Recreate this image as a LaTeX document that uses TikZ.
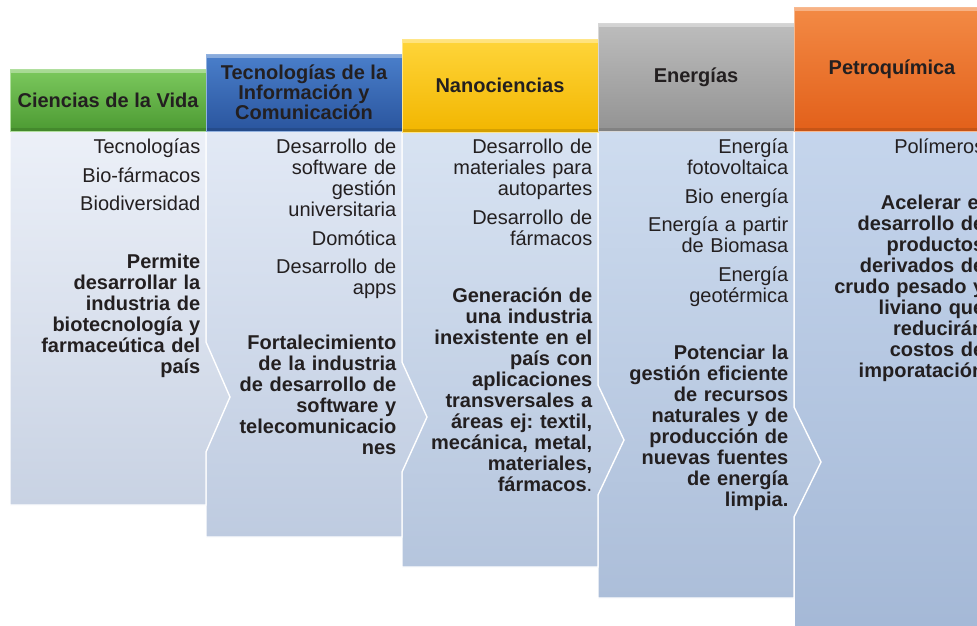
\documentclass[tikz,border=0pt]{standalone}
\usepackage{fontspec}
\setmainfont{Liberation Sans}
\usetikzlibrary{positioning}
\frenchspacing

\definecolor{txt}{HTML}{231F20}
\definecolor{gtop}{HTML}{7CC95E}
\definecolor{gbot}{HTML}{4C9A32}
\definecolor{btop}{HTML}{4A7FCB}
\definecolor{bbot}{HTML}{2A559E}
\definecolor{ytop}{HTML}{FFD53A}
\definecolor{ybot}{HTML}{F2B600}
\definecolor{ktop}{HTML}{BDBDBD}
\definecolor{kbot}{HTML}{939393}
\definecolor{otop}{HTML}{F38A45}
\definecolor{obot}{HTML}{E2601A}

\tikzset{
  hdr/.style={minimum width=196pt, inner sep=0pt, align=center, line width=1pt,
    font=\bfseries\fontsize{20}{20}\selectfont, text=txt,
    path picture={
      \draw[white, opacity=.35, line width=7pt] (path picture bounding box.north west) -- (path picture bounding box.north east);
      \draw[black, opacity=.12, line width=7pt] (path picture bounding box.south west) -- (path picture bounding box.south east);
    }},
  body/.style={draw=white, line width=1.4pt},
  items/.style={anchor=base east, text width=190pt, align=right, inner sep=0pt,
    font=\fontsize{20}{21}\selectfont, text=txt},
  goal/.style={items, font=\bfseries\fontsize{20}{21}\selectfont}
}

\begin{document}
\begin{tikzpicture}[x=1pt,y=-1pt]
  \useasboundingbox (0,0) rectangle (977,625);
  \clip (0,0) rectangle (977,625);
  \fill[white] (0,0) rectangle (977,625);

  % cuerpos, del ultimo al primero
  \draw[body, top color={rgb,255:red,197;green,213;blue,236}, bottom color={rgb,255:red,164;green,184;blue,214}]
    (794,131) -- (990,131) -- (990,640) -- (794,640) -- cycle;
  \draw[body, top color={rgb,255:red,206;green,220;blue,239}, bottom color={rgb,255:red,172;green,190;blue,217}]
    (598,131) -- (794,131) -- (794,407) -- (821,462) -- (794,517) -- (794,598) -- (598,598) -- cycle;
  \draw[body, top color={rgb,255:red,216;green,227;blue,242}, bottom color={rgb,255:red,181;green,197;blue,221}]
    (402,131) -- (598,131) -- (598,385) -- (624,440) -- (598,495) -- (598,567) -- (402,567) -- cycle;
  \draw[body, top color={rgb,255:red,226;green,233;blue,245}, bottom color={rgb,255:red,190;green,203;blue,224}]
    (206,131) -- (402,131) -- (402,362) -- (427,417) -- (402,472) -- (402,537) -- (206,537) -- cycle;
  \draw[body, top color={rgb,255:red,236;green,240;blue,248}, bottom color={rgb,255:red,200;green,210;blue,227}]
    (10,131) -- (206,131) -- (206,342) -- (230,397) -- (206,452) -- (206,505) -- (10,505) -- cycle;

  % encabezados
  \node[hdr, top color=gtop, bottom color=gbot, draw=gtop!60!white, minimum height=62pt] (vida) at (108,100) {Ciencias de la Vida};
  \node[hdr, top color=btop, bottom color=bbot, draw=btop!60!white, minimum height=77pt] (tic) at (304,92.5) {Tecnologías de la\\Información y\\Comunicación};
  \node[hdr, top color=ytop, bottom color=ybot, draw=ytop!60!white, minimum height=93pt] (nano) at (500,85.5) {Nanociencias};
  \node[hdr, top color=ktop, bottom color=kbot, draw=ktop!60!white, minimum height=108pt] (ener) at (696,77) {Energías};
  \node[hdr, top color=otop, bottom color=obot, draw=otop!60!white, minimum height=124pt] (petro) at (892,69) {Petroquímica};

  % textos
  \node[items] (vidalist) at (200.5,153.5) {Tecnologías\\[7.5pt]Bio-fármacos\\[7.5pt]Biodiversidad};
  \node[goal] (vidagoal) at (200.5,268.5) {Permite\\desarrollar la\\industria de\\biotecnología y\\farmaceútica del\\país};

  \node[items] (ticlist) at (396.5,153.5) {Desarrollo de\\software de\\gestión\\universitaria\\[7.5pt]Domótica\\[7.5pt]Desarrollo de\\apps};
  \node[goal] (ticgoal) at (396.5,349.5) {Fortalecimiento\\de la industria\\de desarrollo de\\software y\\telecomunicacio\\nes};

  \node[items] (nanolist) at (592.5,153.5) {Desarrollo de\\materiales para\\autopartes\\[7.5pt]Desarrollo de\\fármacos};
  \node[goal] (nanogoal) at (592.5,302.5) {Generación de\\una industria\\inexistente en el\\país con\\aplicaciones\\transversales a\\áreas ej: textil,\\mecánica, metal,\\materiales,\\fármacos\mdseries.};

  \node[items] (enerlist) at (788.5,153.5) {Energía\\fotovoltaica\\[7.5pt]Bio energía\\[7.5pt]Energía a partir\\de Biomasa\\[7.5pt]Energía\\geotérmica};
  \node[goal] (energoal) at (788.5,359.5) {Potenciar la\\gestión eficiente\\de recursos\\naturales y de\\producción de\\nuevas fuentes\\de energía\\limpia.};

  \node[items] (petrolist) at (984.5,153.5) {Polímeros};
  \node[goal] (petrogoal) at (984.5,209.5) {Acelerar el\\desarrollo de\\productos\\derivados de\\crudo pesado y\\liviano que\\reducirán\\costos de\\imporatación};
\end{tikzpicture}
\end{document}
